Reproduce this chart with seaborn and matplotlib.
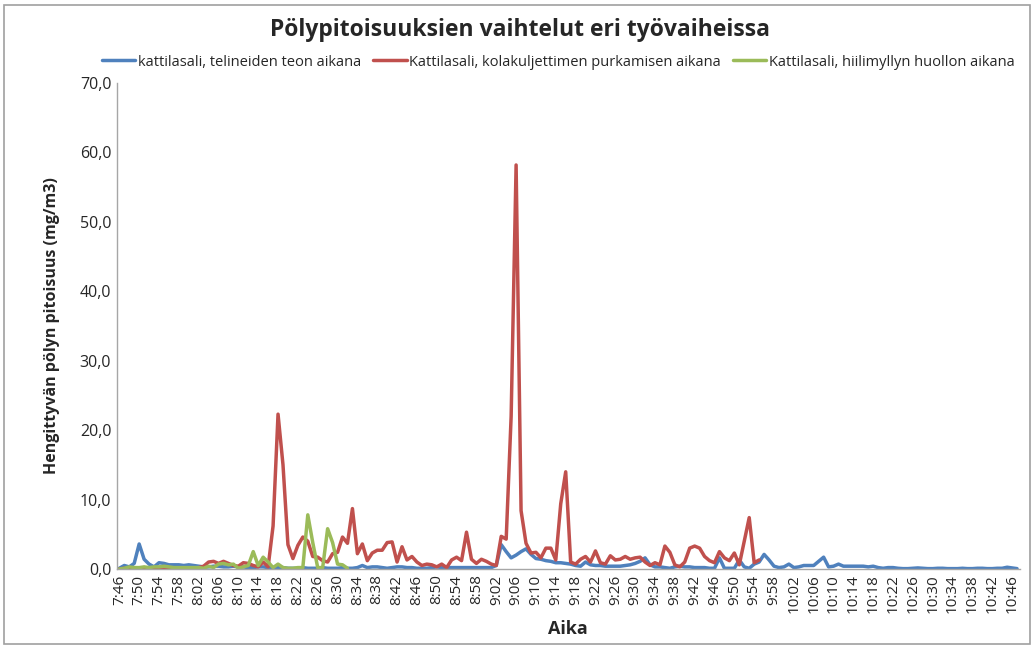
import numpy as np
import pandas as pd
import matplotlib
matplotlib.use('Agg')
import matplotlib.pyplot as plt
import seaborn as sns
from matplotlib.patches import Rectangle

# mittaukset minuutin valein, alkaen klo 7:46
aika = pd.date_range('2024-01-01 07:46', periods=182, freq='min').strftime('%-H:%M').tolist()

telineet = [
    0.1, 0.5, 0.3, 0.8, 3.6, 1.4, 0.7, 0.3, 0.9, 0.8,
    0.6, 0.6, 0.6, 0.5, 0.6, 0.5, 0.4, 0.3, 0.3, 0.4,
    0.4, 0.3, 0.3, 0.4, 0.3, 0.3, 0.2, 0.2, 0.3, 0.3,
    0.2, 0.2, 0.2, 0.2, 0.1, 0.1, 0.1, 0.2, 0.1, 0.1,
    0.1, 0.2, 0.1, 0.1, 0.1, 0.2, 0.1, 0.1, 0.2, 0.5,
    0.2, 0.3, 0.3, 0.2, 0.1, 0.2, 0.3, 0.3, 0.2, 0.2,
    0.1, 0.1, 0.1, 0.2, 0.3, 0.2, 0.2, 0.2, 0.2, 0.2,
    0.2, 0.2, 0.2, 0.2, 0.2, 0.2, 0.5, 3.5, 2.5, 1.6,
    2.0, 2.5, 2.9, 2.1, 1.5, 1.4, 1.2, 1.1, 0.9, 0.9,
    0.8, 0.7, 0.5, 0.4, 1.0, 0.6, 0.5, 0.5, 0.4, 0.4,
    0.4, 0.4, 0.5, 0.6, 0.8, 1.1, 1.6, 0.6, 0.3, 0.3,
    0.2, 0.1, 0.3, 0.4, 0.3, 0.3, 0.2, 0.2, 0.2, 0.1,
    0.1, 1.6, 0.1, 0.1, 0.1, 1.3, 0.3, 0.1, 0.7, 1.0,
    2.1, 1.3, 0.4, 0.2, 0.3, 0.7, 0.2, 0.3, 0.5, 0.5,
    0.5, 1.1, 1.7, 0.3, 0.4, 0.7, 0.4, 0.4, 0.4, 0.4,
    0.4, 0.3, 0.4, 0.2, 0.1, 0.2, 0.2, 0.1, 0.05, 0.05,
    0.1, 0.15, 0.1, 0.05, 0.05, 0.1, 0.1, 0.05, 0.05, 0.05,
    0.1, 0.05, 0.05, 0.1, 0.1, 0.05, 0.05, 0.1, 0.1, 0.25,
    0.15, 0.05,
]

kolakuljetin = [
    0.0, 0.1, 0.0, 0.1, 0.0, 0.2, 0.1, 0.1, 0.2, 0.1,
    0.0, 0.1, 0.1, 0.0, 0.1, 0.1, 0.2, 0.4, 1.0, 1.1,
    0.8, 1.1, 0.8, 0.5, 0.4, 0.9, 0.8, 0.5, 0.3, 1.0,
    0.3, 6.2, 22.3, 15.0, 3.5, 1.5, 3.4, 4.6, 4.0, 1.8,
    1.7, 1.2, 1.0, 2.2, 2.4, 4.6, 3.7, 8.7, 2.2, 3.6,
    1.2, 2.3, 2.7, 2.7, 3.8, 3.9, 1.0, 3.2, 1.3, 1.8,
    1.0, 0.5, 0.7, 0.6, 0.3, 0.7, 0.2, 1.3, 1.7, 1.2,
    5.3, 1.4, 0.8, 1.4, 1.1, 0.7, 0.5, 4.7, 4.3, 22.0,
    58.2, 8.4, 3.7, 2.3, 2.4, 1.6, 3.0, 3.0, 1.3, 9.4,
    14.0, 1.0, 0.7, 1.4, 1.8, 1.0, 2.6, 0.9, 0.7, 1.9,
    1.3, 1.4, 1.8, 1.4, 1.6, 1.7, 1.0, 0.5, 0.9, 0.6,
    3.3, 2.4, 0.6, 0.3, 1.0, 3.0, 3.3, 3.0, 1.8, 1.2,
    0.9, 2.5, 1.6, 1.2, 2.3, 0.6, 4.0, 7.4, 0.9, 1.3,
]

hiilimylly = [
    0.0, 0.1, 0.3, 0.2, 0.2, 0.3, 0.2, 0.3, 0.3, 0.4,
    0.3, 0.2, 0.2, 0.2, 0.2, 0.2, 0.2, 0.1, 0.4, 0.2,
    0.7, 0.8, 0.6, 0.7, 0.1, 0.3, 0.5, 2.5, 0.5, 1.7,
    1.0, 0.2, 0.7, 0.2, 0.1, 0.1, 0.2, 0.2, 7.8, 3.8,
    0.2, 0.2, 5.8, 3.8, 0.7, 0.6, 0.1,
]

sarjat = [
    'kattilasali, telineiden teon aikana',
    'Kattilasali, kolakuljettimen purkamisen aikana',
    'Kattilasali, hiilimyllyn huollon aikana',
]
varit = ['#4F81BD', '#C0504D', '#9BBB59']

rivit = []
for nimi, arvot in zip(sarjat, [telineet, kolakuljetin, hiilimylly]):
    for i, v in enumerate(arvot):
        rivit.append({'idx': i, 'Aika': aika[i], 'pitoisuus': v, 'sarja': nimi})
df = pd.DataFrame(rivit)

sns.set_style('white')
plt.rcParams['font.family'] = ['Open Sans', 'DejaVu Sans']

fig = plt.figure(figsize=(10.34, 6.47), dpi=100)
ax = fig.add_axes([0.113, 0.1206, 0.873, 0.751])

sns.lineplot(data=df, x='idx', y='pitoisuus', hue='sarja', hue_order=sarjat,
             palette=varit, linewidth=2.5, estimator=None, sort=False, ax=ax,
             legend=False)

ax.set_xlim(-0.5, len(aika) - 0.5)
ax.set_ylim(0, 70)
ax.set_yticks(range(0, 71, 10))
ax.set_yticklabels([f'{v:.1f}'.replace('.', ',') for v in range(0, 71, 10)], fontsize=11.5)
ax.set_xticks(range(0, len(aika), 4))
ax.set_xticklabels(aika[::4], rotation=90, fontsize=11)
ax.tick_params(length=0, pad=4)

for s in ['top', 'right']:
    ax.spines[s].set_visible(False)
for s in ['left', 'bottom']:
    ax.spines[s].set_color('#A6A6A6')
    ax.spines[s].set_linewidth(1.0)

ax.set_xlabel('Aika', fontsize=13, fontweight='bold', labelpad=5)
ax.set_ylabel('Hengittyvän pölyn pitoisuus (mg/m3)', fontsize=11.5, fontweight='bold', labelpad=14)

fig.suptitle('Pölypitoisuuksien vaihtelut eri työvaiheissa', fontsize=16.5, fontweight='bold',
             x=0.503, y=0.972)

handles = [plt.Line2D([], [], color=c, lw=2.5) for c in varit]
fig.legend(handles, sarjat, loc='center', bbox_to_anchor=(0.54, 1 - 62 / 647), ncol=3,
           frameon=False, fontsize=10.5, handlelength=2.3, handletextpad=0.2, columnspacing=0.8)

fig.add_artist(Rectangle((0.004, 0.004), 0.992, 0.988, transform=fig.transFigure,
                         fill=False, edgecolor='#A0A0A0', linewidth=1.2))

fig.savefig('out.png', dpi=100)
